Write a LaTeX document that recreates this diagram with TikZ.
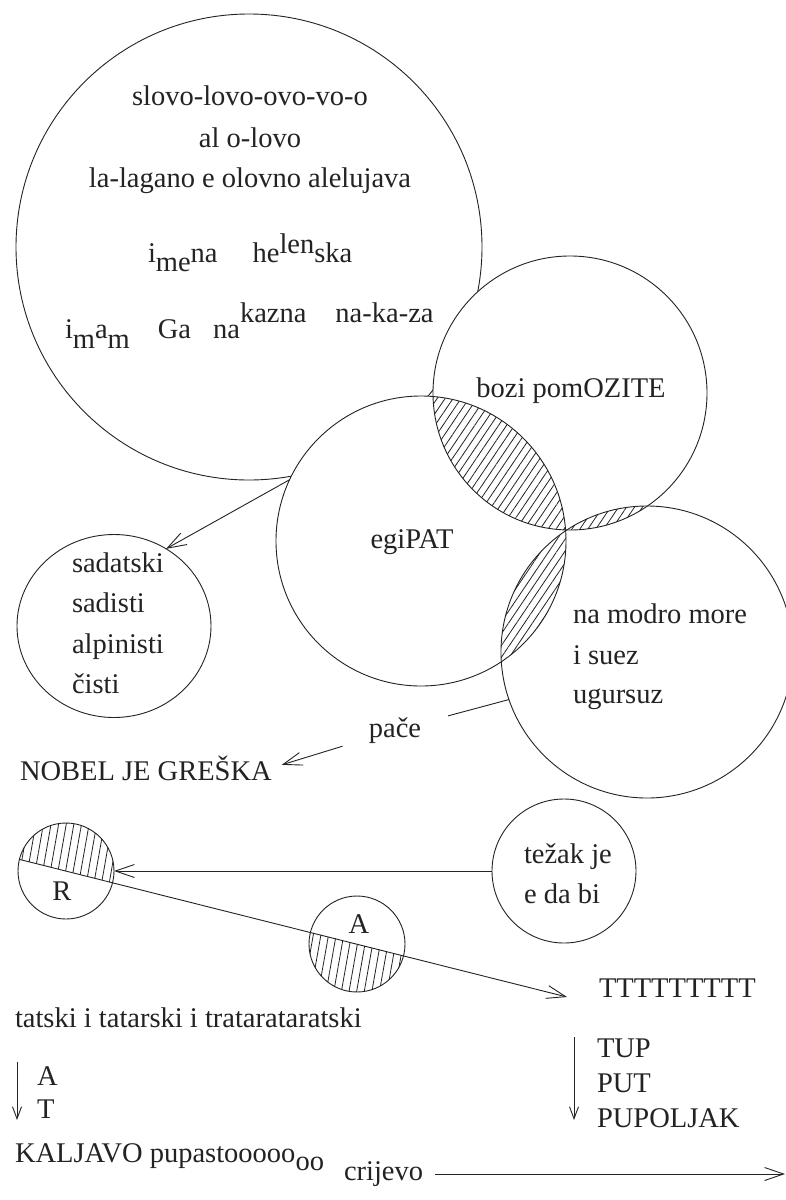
\documentclass[tikz,border=0pt]{standalone}
\usepackage{fontspec}
\setmainfont{Liberation Serif}
\usetikzlibrary{arrows.meta,patterns.meta,shapes.geometric}
\definecolor{ink}{RGB}{35,35,35}
\begin{document}
\begin{tikzpicture}[x=1pt,y=-1pt,
  ln/.style={draw=ink,line width=0.9pt},
  ring/.style={circle,draw=ink,line width=0.9pt,inner sep=0pt,outer sep=0pt},
  txt/.style={inner sep=0pt,outer sep=0pt,text=ink,font=\fontsize{28.5}{34}\selectfont},
  arr/.style={draw=ink,line width=0.9pt,-{Straight Barb[length=19pt,width=13pt]}},
  sarr/.style={draw=ink,line width=0.9pt,-{Straight Barb[length=12pt,width=9pt]}},
  hatch/.style={pattern={Lines[angle=56,distance=6.6pt,line width=0.8pt]},pattern color=ink},
  vhatch/.style={pattern={Lines[angle=80,distance=7.5pt,line width=0.8pt]},pattern color=ink}]
\fill[white] (0,0) rectangle (786,1200);
\useasboundingbox (0,0) rectangle (786,1200);
% centres
\coordinate (cBig) at (249,247);
\coordinate (cB) at (570,393);
\coordinate (cE) at (421,541);
\coordinate (cM) at (647,652);
% big circle
\node[ring,minimum size=466pt] (big) at (cBig) {};
% white fills of the three overlapping circles
\fill[white] (cB) circle[radius=137];
\fill[white] (cE) circle[radius=145];
\fill[white] (cM) circle[radius=146];
% hatched lenses
\begin{scope}
  \clip (cE) circle[radius=145];
  \fill[hatch] (cB) circle[radius=137];
\end{scope}
\begin{scope}
  \clip (cM) circle[radius=146];
  \fill[hatch] (cB) circle[radius=137];
  \fill[hatch] (cE) circle[radius=145];
\end{scope}
% outlines
\node[ring,minimum size=274pt] (boz) at (cB) {};
\node[ring,minimum size=290pt] (egi) at (cE) {};
\node[ring,minimum size=292pt] (mod) at (cM) {};
\node[ellipse,draw=ink,line width=0.9pt,inner sep=0pt,outer sep=0pt,minimum width=194pt,minimum height=183pt] (sad) at (114,626) {};
\node[ring,minimum size=144pt] (tez) at (564,871) {};
% R circle
\begin{scope}
  \clip (66,871) circle[radius=48];
  \fill[vhatch] (0,854.4) -- (130,887.1) -- (130,800) -- (0,800) -- cycle;
\end{scope}
\node[ring,minimum size=96pt] (R) at (66,871) {};
% A circle
\begin{scope}
  \clip (357,944) circle[radius=48];
  \fill[vhatch] (300,929.7) -- (420,959.8) -- (420,1000) -- (300,1000) -- cycle;
\end{scope}
\node[ring,minimum size=96pt] (Ac) at (357,944) {};
% texts in big circle
\node[txt,anchor=base] (t1) at (250,105) {slovo-lovo-ovo-vo-o};
\node[txt,anchor=base] (t2) at (250,147) {al o-lovo};
\node[txt,anchor=base] (t3) at (250,187) {la-lagano e olovno alelujava};
\node[txt,anchor=base west] (t4) at (148,262) {i\raisebox{-9pt}{me}na\hspace{35pt}he\raisebox{9pt}{len}ska};
\node[txt,anchor=base west] (t5) at (65,338) {i\raisebox{-10pt}{m}a\raisebox{-10pt}{m}\hspace{28pt}Ga\hspace{22pt}na\raisebox{16pt}{kazna}\hspace{29pt}\raisebox{16pt}{na-ka-za}};
% other circle texts
\node[txt,anchor=base] (bozt) at (571,397) {bozi pomOZITE};
\node[txt,anchor=base] (egit) at (412,548) {egiPAT};
\node[txt,anchor=base west] (m1) at (573,623) {na modro more};
\node[txt,anchor=base west] (m2) at (573,664) {i suez};
\node[txt,anchor=base west] (m3) at (573,703) {ugursuz};
\node[txt,anchor=base west] (s1) at (72,572) {sadatski};
\node[txt,anchor=base west] (s2) at (72,612) {sadisti};
\node[txt,anchor=base west] (s3) at (72,653) {alpinisti};
\node[txt,anchor=base west] (s4) at (72,693) {čisti};
\node[txt,anchor=base] (pace) at (395,737) {pače};
\node[txt,anchor=base west] (nobel) at (20,780) {NOBEL JE GREŠKA};
\node[txt,anchor=base west] (z1) at (524,863) {težak je};
\node[txt,anchor=base west] (z2) at (524,903) {e da bi};
\node[txt,anchor=base] (rl) at (62,900) {R};
\node[txt,anchor=base] (al) at (359,933) {A};
\node[txt,anchor=base west] (ttt) at (599,997) {TTTTTTTTT};
\node[txt,anchor=base west] (tat) at (15,1027) {tatski i tatarski i tratarataratski};
\node[txt,anchor=base west] (la) at (37,1085) {A};
\node[txt,anchor=base west] (lt) at (37,1118) {T};
\node[txt,anchor=base west] (p1) at (597,1057) {TUP};
\node[txt,anchor=base west] (p2) at (597,1092) {PUT};
\node[txt,anchor=base west] (p3) at (597,1127) {PUPOLJAK};
\node[txt,anchor=base west] (kal) at (15,1162) {KALJAVO pupastooooo\raisebox{-8pt}{oo}};
\node[txt,anchor=base west] (crij) at (344,1180) {crijevo};
% connectors
\draw[arr] (egi.155) -- (sad.56);
\draw[ln,shorten >=28pt] (mod.199) -- (pace);
\draw[arr,shorten <=27.5pt,shorten >=10.5pt] (pace) -- (nobel.east);
\draw[arr] (tez.west) -- (R.east);
\coordinate (ttip) at (567,997);
\draw[arr] (R.166) -- (ttip);
\coordinate (at1) at (17,1062);
\coordinate (at2) at (17,1120);
\draw[sarr] (at1) -- (at2);
\coordinate (tp1) at (574,1037);
\coordinate (tp2) at (574,1120);
\draw[sarr] (tp1) -- (tp2);
\coordinate (kend) at (785,1174);
\draw[arr,shorten <=12pt] (crij.east |- kend) -- (kend);
\end{tikzpicture}
\end{document}
